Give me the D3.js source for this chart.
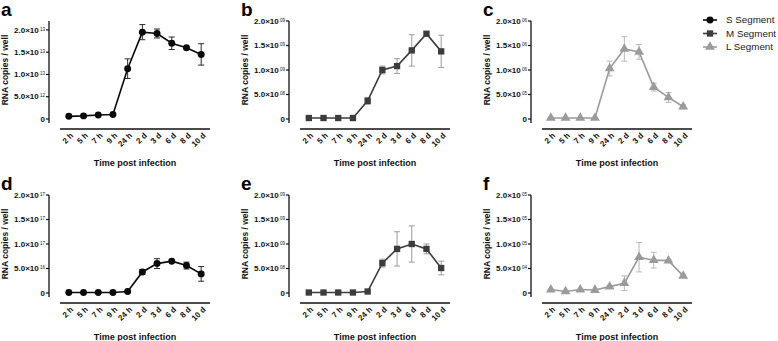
<!DOCTYPE html>
<html>
<head>
<meta charset="utf-8">
<script src="https://cdn.jsdelivr.net/npm/d3@7"></script>
<style>
  body { margin: 0; background: #fff; }
  svg { font-family: "Liberation Sans", Arial, sans-serif; }
</style>
</head>
<body>
<div id="chart"></div>
<script>
const timepoints = ['2 h', '5 h', '7 h', '9 h', '24 h', '2 d', '3 d', '6 d', '8 d', '10 d'];

// values in units of the top tick mantissa (e.g. a: x10^13)
const aMean = [0.06, 0.07, 0.09, 0.10, 1.13, 1.95, 1.92, 1.70, 1.60, 1.45];
const aErr  = [0.01, 0.01, 0.01, 0.01, 0.22, 0.17, 0.10, 0.14, 0.03, 0.24];
const bMean = [0.02, 0.02, 0.02, 0.02, 0.37, 1.00, 1.08, 1.40, 1.74, 1.38];
const bErr  = [0.01, 0.01, 0.01, 0.01, 0.07, 0.08, 0.15, 0.32, 0.04, 0.33];
const cMean = [0.02, 0.02, 0.02, 0.02, 1.03, 1.43, 1.37, 0.65, 0.44, 0.25];
const cErr  = [0.01, 0.01, 0.01, 0.01, 0.15, 0.25, 0.15, 0.08, 0.10, 0.04];
const dMean = [0.01, 0.01, 0.01, 0.01, 0.03, 0.43, 0.60, 0.65, 0.56, 0.39];
const dErr  = [0.01, 0.01, 0.01, 0.01, 0.01, 0.05, 0.10, 0.02, 0.07, 0.15];
const eMean = [0.01, 0.01, 0.01, 0.01, 0.03, 0.61, 0.90, 1.00, 0.90, 0.51];
const eErr  = [0.01, 0.01, 0.01, 0.01, 0.01, 0.08, 0.35, 0.37, 0.10, 0.14];
const fMean = [0.07, 0.03, 0.07, 0.06, 0.13, 0.20, 0.73, 0.67, 0.66, 0.35];
const fErr  = [0.01, 0.01, 0.01, 0.01, 0.02, 0.15, 0.30, 0.16, 0.02, 0.02];

const tickMantissa = ['0', '5.0', '1.0', '1.5', '2.0'];
const tickValues = [0, 0.5, 1.0, 1.5, 2.0];
const exponents = {
  a: ['', '12', '13', '13', '13'],
  b: ['', '08', '09', '09', '09'],
  c: ['', '05', '06', '06', '06'],
  d: ['', '16', '17', '17', '17'],
  e: ['', '08', '09', '09', '09'],
  f: ['', '04', '05', '05', '05']
};

const seriesNames = ['S Segment', 'M Segment', 'L Segment'];
const styles = {
  S: { line: '#0a0a0a', err: '#2a2a2a', shape: d3.symbolCircle, size: 38 },
  M: { line: '#3c3c3c', err: '#9c9c9c', shape: d3.symbolSquare, size: 40 },
  L: { line: '#9b9b9b', err: '#b8b8b8', shape: d3.symbolTriangle, size: 42 }
};

const panels = [
  { id: 'a', seg: 'S', mean: aMean, err: aErr, col: 0, row: 0, top: 2.2 },
  { id: 'b', seg: 'M', mean: bMean, err: bErr, col: 1, row: 0, top: 2.0 },
  { id: 'c', seg: 'L', mean: cMean, err: cErr, col: 2, row: 0, top: 2.0 },
  { id: 'd', seg: 'S', mean: dMean, err: dErr, col: 0, row: 1, top: 2.0 },
  { id: 'e', seg: 'M', mean: eMean, err: eErr, col: 1, row: 1, top: 2.0 },
  { id: 'f', seg: 'L', mean: fMean, err: fErr, col: 2, row: 1, top: 2.0 }
];

const width = 778, height = 341;
const colX = [0, 240, 482];
const rowY = [0, 174];

const svg = d3.select('#chart').append('svg')
  .attr('width', width)
  .attr('height', height);

panels.forEach(p => {
  const ox = colX[p.col], oy = rowY[p.row];
  const st = styles[p.seg];
  const g = svg.append('g').attr('transform', `translate(${ox},${oy})`);

  const y = d3.scaleLinear().domain([0, p.top]).range([119, 21]);
  const x = d3.scalePoint().domain(timepoints).range([60, 210]).padding(0.6);

  // panel letter
  g.append('text')
    .attr('x', 1).attr('y', 16)
    .style('font-size', '19px').style('font-weight', 'bold')
    .text(p.id);

  // y axis
  const yAxisX = 49;
  g.append('line')
    .attr('x1', yAxisX).attr('x2', yAxisX)
    .attr('y1', y(p.top)).attr('y2', y(0) + 4)
    .attr('stroke', '#111').attr('stroke-width', 1.3);

  const ticks = g.append('g').selectAll('g.tick')
    .data(tickValues)
    .join('g')
    .attr('class', 'tick')
    .attr('transform', d => `translate(${yAxisX},${y(d)})`);
  ticks.append('line').attr('x1', -3).attr('x2', 0).attr('stroke', '#111').attr('stroke-width', 1.2);
  const tl = ticks.append('text')
    .attr('x', -4).attr('dy', '0.33em')
    .attr('text-anchor', 'end')
    .style('font-size', '8px').style('font-weight', 'bold').style('fill', '#111');
  tl.append('tspan').text((d, i) => i === 0 ? '0' : tickMantissa[i] + '\u00d710');
  tl.filter((d, i) => i > 0).append('tspan')
    .attr('dy', '-0.45em')
    .style('font-size', '4.5px').style('font-weight', 'normal')
    .text((d, i) => ' ' + exponents[p.id][i + 1]);

  // y title
  g.append('text')
    .attr('transform', `translate(8,70) rotate(-90)`)
    .attr('text-anchor', 'middle')
    .style('font-size', '8.5px').style('font-weight', 'bold').style('fill', '#111')
    .text('RNA copies / well');

  // x axis
  g.append('line')
    .attr('x1', 60).attr('x2', 210)
    .attr('y1', 129).attr('y2', 129)
    .attr('stroke', '#111').attr('stroke-width', 1.3);

  g.append('g').selectAll('text')
    .data(timepoints)
    .join('text')
    .attr('transform', d => `translate(${x(d) + 3},${134}) rotate(-45)`)
    .attr('text-anchor', 'end')
    .attr('dy', '0.35em')
    .style('font-size', '8px').style('font-weight', 'bold').style('fill', '#111')
    .text(d => d);

  g.append('text')
    .attr('x', 135).attr('y', 166)
    .attr('text-anchor', 'middle')
    .style('font-size', '9px').style('font-weight', 'bold').style('fill', '#111')
    .text('Time post infection');

  // error bars
  const eb = g.append('g').selectAll('g')
    .data(timepoints.map((t, i) => ({ t, m: p.mean[i], e: p.err[i] })))
    .join('g');
  eb.append('line')
    .attr('x1', d => x(d.t)).attr('x2', d => x(d.t))
    .attr('y1', d => y(d.m + d.e)).attr('y2', d => y(Math.max(0, d.m - d.e)))
    .attr('stroke', st.err).attr('stroke-width', 1);
  eb.append('line')
    .attr('x1', d => x(d.t) - 3).attr('x2', d => x(d.t) + 3)
    .attr('y1', d => y(d.m + d.e)).attr('y2', d => y(d.m + d.e))
    .attr('stroke', st.err).attr('stroke-width', 1);
  eb.append('line')
    .attr('x1', d => x(d.t) - 3).attr('x2', d => x(d.t) + 3)
    .attr('y1', d => y(Math.max(0, d.m - d.e))).attr('y2', d => y(Math.max(0, d.m - d.e)))
    .attr('stroke', st.err).attr('stroke-width', 1);

  // line
  g.append('path')
    .datum(p.mean)
    .attr('fill', 'none')
    .attr('stroke', st.line)
    .attr('stroke-width', 1.6)
    .attr('d', d3.line().x((d, i) => x(timepoints[i])).y(d => y(d)));

  // markers
  g.append('g').selectAll('path')
    .data(p.mean)
    .join('path')
    .attr('transform', (d, i) => `translate(${x(timepoints[i])},${y(d)})`)
    .attr('d', d3.symbol().type(st.shape).size(st.size))
    .attr('fill', st.line);
});

// legend
const legend = svg.append('g').attr('transform', 'translate(703,0)');
['S', 'M', 'L'].forEach((k, i) => {
  const st = styles[k];
  const ly = 20 + i * 13.5;
  legend.append('line')
    .attr('x1', 0).attr('x2', 14).attr('y1', ly).attr('y2', ly)
    .attr('stroke', st.line).attr('stroke-width', 1.6);
  legend.append('path')
    .attr('transform', `translate(7,${ly})`)
    .attr('d', d3.symbol().type(st.shape).size(st.size))
    .attr('fill', st.line);
  legend.append('text')
    .attr('x', 23).attr('y', ly).attr('dy', '0.35em')
    .style('font-size', '9.8px').style('fill', '#222')
    .text(seriesNames[i]);
});
</script>
</body>
</html>
